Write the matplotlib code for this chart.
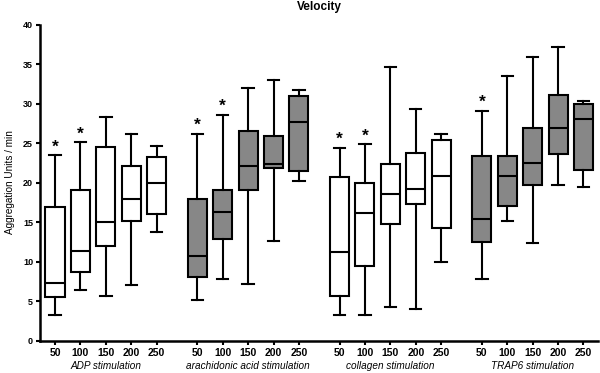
import matplotlib
matplotlib.use("Agg")
import matplotlib.pyplot as plt

plt.rcParams['font.family'] = ['Liberation Sans', 'DejaVu Sans']

groups = ["ADP stimulation", "arachidonic acid stimulation", "collagen stimulation", "TRAP6 stimulation"]
doses = ["50", "100", "150", "200", "250"]
filled = [False, True, False, True]

# per group: lists over doses
whislo = [
    [3.3, 6.4, 5.7, 7.0, 13.7],
    [5.1, 7.8, 7.2, 12.6, 20.2],
    [3.2, 3.2, 4.3, 4.0, 9.9],
    [7.8, 15.1, 12.4, 19.7, 19.4],
]
q1 = [
    [5.5, 8.7, 12.0, 15.1, 16.0],
    [8.1, 12.9, 19.1, 21.9, 21.4],
    [5.6, 9.5, 14.8, 17.3, 14.3],
    [12.5, 17.0, 19.7, 23.6, 21.6],
]
med = [
    [7.3, 11.3, 15.0, 17.9, 19.9],
    [10.7, 16.3, 22.1, 22.4, 27.7],
    [11.2, 16.2, 18.5, 19.2, 20.8],
    [15.4, 20.8, 22.5, 26.9, 28.1],
]
q3 = [
    [16.9, 19.0, 24.5, 22.1, 23.2],
    [17.9, 19.0, 26.5, 25.9, 30.9],
    [20.7, 20.0, 22.3, 23.8, 25.4],
    [23.3, 23.4, 26.9, 31.1, 29.9],
]
whishi = [
    [23.5, 25.1, 28.3, 26.2, 24.6],
    [26.2, 28.6, 32.0, 33.0, 31.7],
    [24.4, 24.9, 34.6, 29.3, 26.2],
    [29.1, 33.5, 35.9, 37.2, 30.3],
]
# significance markers (True -> asterisk above whisker)
signif = [
    [True, True, False, False, False],
    [True, True, False, False, False],
    [True, True, False, False, False],
    [True, False, False, False, False],
]

fig = plt.figure(figsize=(6.0, 3.73), dpi=100)
ax = fig.add_axes([0.0667, 0.0869, 0.9303, 0.8474])

group_gap = 5.6
lw = 1.5
positions_all = []
labels_all = []
for g in range(len(groups)):
    stats = []
    pos = []
    for i in range(len(doses)):
        stats.append(dict(whislo=whislo[g][i], q1=q1[g][i], med=med[g][i],
                          q3=q3[g][i], whishi=whishi[g][i], fliers=[]))
        pos.append(g * group_gap + i)
    fc = "#878787" if filled[g] else "white"
    ax.bxp(stats, positions=pos, widths=0.75, patch_artist=True,
           showfliers=False, manage_ticks=False, capwidths=0.45,
           boxprops=dict(facecolor=fc, edgecolor="black", linewidth=lw),
           medianprops=dict(color="black", linewidth=lw),
           whiskerprops=dict(color="black", linewidth=lw),
           capprops=dict(color="black", linewidth=lw))
    for i in range(len(doses)):
        if signif[g][i]:
            ax.text(pos[i], whishi[g][i] + 0.45, "*", ha="center", va="baseline",
                    fontsize=12.5, fontweight="bold", color="black")
    ax.text(g * group_gap + 2, -3.25, groups[g], ha="center", va="center",
            fontsize=7.2, fontstyle="italic", transform=ax.transData)
    positions_all += pos
    labels_all += doses

ax.set_xticks(positions_all)
ax.set_xticklabels(labels_all, fontsize=7.5, fontweight="bold")
ax.set_xlim(-0.59, 21.38)
ax.set_ylim(0, 40)
ax.set_yticks(range(0, 41, 5))
ax.set_yticklabels([str(v) for v in range(0, 41, 5)], fontsize=6.5, fontweight="bold")
ax.tick_params(axis="both", length=3, width=1.5, pad=2)
for s in ["top", "right"]:
    ax.spines[s].set_visible(False)
for s in ["left", "bottom"]:
    ax.spines[s].set_linewidth(1.8)
ax.set_ylabel("Aggregation Units / min", fontsize=7.2, labelpad=6)
fig.text(0.532, 0.98, "Velocity", ha="center", va="center", fontsize=8.5, fontweight="bold")

fig.savefig("out.png", dpi=100)
